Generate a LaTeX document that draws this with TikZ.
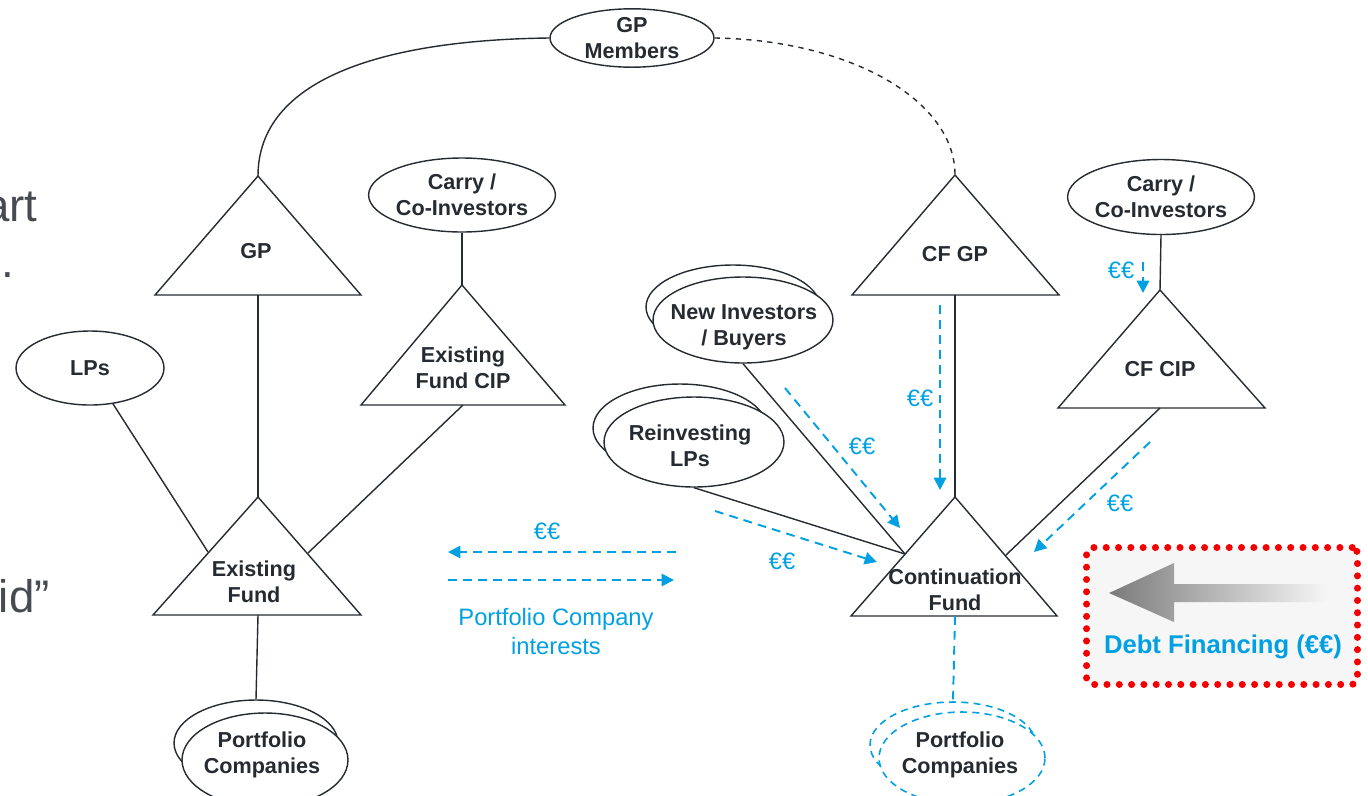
\documentclass[tikz,border=0pt]{standalone}
\usepackage{fontspec}
\setmainfont{Liberation Sans}
\usetikzlibrary{shapes.geometric, arrows.meta}

\definecolor{ink}{RGB}{38,43,50}
\definecolor{cfblue}{RGB}{0,160,226}
\definecolor{dotred}{RGB}{245,0,0}
\definecolor{panel}{RGB}{246,246,246}
\newcommand{\lblfont}{\fontsize{12.3}{14.8}\selectfont\bfseries}
\newcommand{\eurfont}{\fontsize{13.5}{16.5}\selectfont}

\tikzset{
  link/.style={draw=ink, line width=0.8pt},
  tri/.style={draw=ink, line width=0.8pt, line join=miter},
  lbl/.style={align=center, text=ink, font=\lblfont},
  oval/.style={lbl, draw=ink, line width=0.8pt, ellipse, inner sep=0pt, fill=white},
  dashoval/.style={lbl, draw=cfblue, line width=0.9pt, dash pattern=on 4pt off 3pt, ellipse, inner sep=0pt, fill=white},
  flow/.style={draw=cfblue, line width=1.1pt, dash pattern=on 5pt off 3.5pt, -{Triangle[length=7pt,width=7pt]}},
  euro/.style={text=cfblue, font=\eurfont, align=center},
  frag/.style={text=ink!85, inner sep=0pt, font=\fontsize{26}{30}\selectfont},
}

\begin{document}
\begin{tikzpicture}[x=0.02cm, y=-0.02cm]
\useasboundingbox (0,0) rectangle (1368,795);

% cut-off slide text on the left
\node[frag, anchor=base east] (fragA) at (38,221) {art};
\node[frag, anchor=base west] (fragB) at (1,277) {.};
\node[frag, anchor=base east] (fragC) at (50,612) {rid”};

% existing fund side
\node[oval, minimum width=3.28cm, minimum height=1.04cm] (gpm) at (632,38) {GP\\Members};

\draw[tri] (258,176) coordinate (gpT) -- (361,295) -- (155,295) -- cycle;
\coordinate (gpB) at (258,295);
\node[lbl] (gp) at (256,251) {GP};

\node[oval, minimum width=3.14cm, minimum height=1.48cm] (carryL) at (462,195) {Carry /\\Co-Investors};
\draw[tri] (462,285) coordinate (fcipT) -- (565,405) -- (361,405) -- cycle;
\coordinate (fcipB) at (463,405);
\node[lbl] (fcip) at (463,368) {Existing\\Fund CIP};

\node[oval, minimum width=2.96cm, minimum height=1.48cm] (lps) at (90,368) {LPs};

\draw[tri] (258,497) coordinate (efT) -- (361,615) -- (153,615) -- cycle;
\coordinate (efB) at (258,615);
\coordinate (efL) at (208,552);
\coordinate (efR) at (308,553);
\node[lbl] (ef) at (254,582) {Existing\\Fund};

\node[oval, minimum width=3.28cm, minimum height=1.72cm] (pclBack) at (256,743) {};
\node[oval, minimum width=3.32cm, minimum height=1.88cm] (pcl) at (265,760) {};
\node[lbl] (pclText) at (262,755) {Portfolio\\Companies};

\draw[link] (gpm.west) .. controls (380,40) and (258,80) .. (gpT);
\draw[link] (gpB) -- (efT);
\draw[link] (carryL.south) -- (fcipT);
\draw[link] (lps) -- (efL);
\draw[link] (fcipB) -- (efR);
\draw[link] (efB) -- (pclBack.north);

% continuation fund side
\draw[tri] (955,175) coordinate (cfgpT) -- (1059,295) -- (852,295) -- cycle;
\coordinate (cfgpB) at (955,295);
\node[lbl] (cfgp) at (955,254) {CF GP};

\node[oval, minimum width=3.14cm, minimum height=1.5cm] (carryR) at (1161,197) {Carry /\\Co-Investors};
\draw[tri] (1160,290) coordinate (cfcipT) -- (1265,408) -- (1058,408) -- cycle;
\coordinate (cfcipB) at (1160,408);
\node[lbl] (cfcip) at (1160,369) {CF CIP};

\node[oval, minimum width=3.48cm, minimum height=1.68cm] (newBack) at (733,307) {};
\node[oval, minimum width=3.6cm, minimum height=1.72cm] (newInv) at (743,320) {};
\node[lbl] (newText) at (744,327) {New Investors\\/ Buyers};

\node[oval, minimum width=3.48cm, minimum height=1.76cm] (reBack) at (680,428) {};
\node[oval, minimum width=3.6cm, minimum height=1.8cm] (reLps) at (694,442) {};
\node[lbl] (reText) at (690,446) {Reinvesting\\LPs};

\draw[tri] (955,497) coordinate (cfT) -- (1057,616) -- (851,616) -- cycle;
\coordinate (cfB) at (955,616);
\coordinate (cfL) at (905,554);
\coordinate (cfR) at (1006,555);
\node[lbl] (cf) at (955,590) {Continuation\\Fund};

\draw[link, dashed] (gpm.east) .. controls (850,40) and (955,100) .. (cfgpT);
\draw[link] (cfgpB) -- (cfT);
\draw[link] (carryR.south) -- (cfcipT);
\draw[link] (cfcipB) -- (cfR);
\draw[link] (newInv.south) -- (cfL);
\draw[link] (reLps.south) -- (cfL);

\node[dashoval, minimum width=3.32cm, minimum height=1.72cm] (pcrBack) at (953,745) {};
\node[dashoval, minimum width=3.32cm, minimum height=1.84cm] (pcr) at (962,758) {};
\node[lbl] (pcrText) at (960,755) {Portfolio\\Companies};
\draw[flow, -] (cfB) -- (pcrBack.north);

% money flows
\coordinate (swapL1) at (676,552);
\coordinate (swapL2) at (448,552);
\coordinate (swapR1) at (448,580);
\coordinate (swapR2) at (674,580);
\draw[flow] (swapL1) -- (swapL2);
\draw[flow] (swapR1) -- (swapR2);
\node[euro] (eurSwap) at (547,531) {€€};
\node[euro] (swapText) at (556,632) {Portfolio Company\\interests};

\coordinate (niA) at (785,388);
\coordinate (niB) at (900,528);
\draw[flow] (niA) -- (niB);
\node[euro] (eurNi) at (862,446) {€€};

\coordinate (reA) at (715,511);
\coordinate (reB) at (877,562);
\draw[flow] (reA) -- (reB);
\node[euro] (eurRe) at (782,561) {€€};

\coordinate (gpA) at (940,305);
\coordinate (gpZ) at (940,490);
\draw[flow] (gpA) -- (gpZ);
\node[euro] (eurGp) at (920,398) {€€};

\coordinate (caA) at (1143,262);
\coordinate (caB) at (1143,293);
\draw[flow] (caA) -- (caB);
\node[euro] (eurCa) at (1121,270) {€€};

\coordinate (ciA) at (1150,442);
\coordinate (ciB) at (1034,552);
\draw[flow] (ciA) -- (ciB);
\node[euro] (eurCi) at (1120,503) {€€};

% debt financing
\node[draw=dotred, fill=panel, line width=4pt, dash pattern=on 0pt off 7pt, line cap=round,
      rounded corners=3pt, minimum width=5.42cm, minimum height=2.74cm] (debt) at (1222,616) {};
\shade[left color=black!52, right color=panel] (1109,593) -- (1174,563) -- (1174,584) -- (1327,584)
      -- (1327,602) -- (1174,602) -- (1174,622) -- cycle;
\node[text=cfblue, font=\fontsize{14.6}{17}\selectfont\bfseries] (debtText) at (1223,647) {Debt Financing (€€)};
\end{tikzpicture}
\end{document}
